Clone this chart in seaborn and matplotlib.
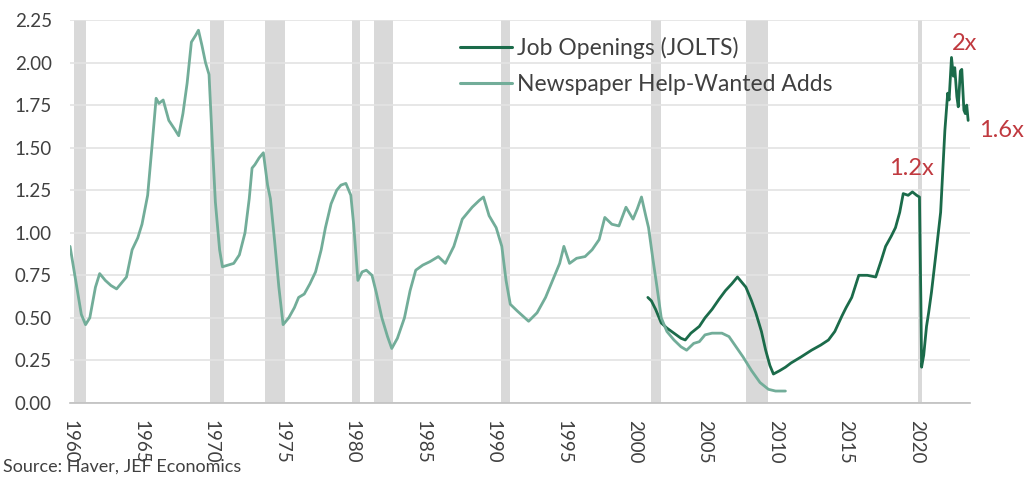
import matplotlib
matplotlib.use("Agg")
import matplotlib.pyplot as plt
import seaborn as sns
import pandas as pd

# ---------------- data ----------------
news_years = [1960.0, 1960.4, 1960.8, 1961.1, 1961.4, 1961.8, 1962.1, 1962.5, 1962.9, 1963.3,
              1963.6, 1964.0, 1964.4, 1964.8, 1965.1, 1965.5, 1965.8, 1966.1, 1966.3, 1966.6,
              1967.0, 1967.4, 1967.7, 1968.0, 1968.3, 1968.6, 1968.9, 1969.1, 1969.35, 1969.6,
              1969.85, 1970.1, 1970.3, 1970.6, 1970.8, 1971.2, 1971.6, 1972.0, 1972.4, 1972.7,
              1972.9, 1973.1, 1973.4, 1973.7, 1974.0, 1974.2, 1974.5, 1974.8, 1975.1, 1975.5,
              1975.9, 1976.2, 1976.6, 1977.0, 1977.4, 1977.8, 1978.1, 1978.5, 1978.9, 1979.2,
              1979.55, 1979.9, 1980.1, 1980.4, 1980.7, 1981.0, 1981.4, 1981.7, 1982.1, 1982.5,
              1982.8, 1983.2, 1983.7, 1984.1, 1984.5, 1985.0, 1985.5, 1986.1, 1986.6, 1987.2,
              1987.8, 1988.5, 1989.0, 1989.3, 1989.7, 1990.2, 1990.6, 1990.9, 1991.2, 1991.7,
              1992.5, 1993.1, 1993.7, 1994.3, 1994.7, 1995.0, 1995.4, 1995.9, 1996.5, 1997.0,
              1997.5, 1997.9, 1998.4, 1998.9, 1999.4, 1999.9, 2000.2, 2000.5, 2000.8, 2001.0,
              2001.3, 2001.6, 2001.9, 2002.3, 2002.8, 2003.3, 2003.7, 2004.2, 2004.6, 2005.0,
              2005.5, 2006.2, 2006.7, 2007.2, 2007.7, 2008.3, 2008.9, 2009.5, 2010.0, 2010.7]
news_values = [0.92, 0.72, 0.52, 0.46, 0.50, 0.68, 0.76, 0.72, 0.69, 0.67,
               0.70, 0.74, 0.90, 0.97, 1.05, 1.22, 1.50, 1.79, 1.76, 1.78,
               1.66, 1.61, 1.57, 1.70, 1.88, 2.12, 2.16, 2.19, 2.10, 2.00,
               1.93, 1.50, 1.18, 0.90, 0.80, 0.81, 0.82, 0.87, 1.00, 1.20,
               1.38, 1.40, 1.44, 1.47, 1.28, 1.20, 0.95, 0.68, 0.46, 0.50,
               0.56, 0.62, 0.64, 0.70, 0.77, 0.90, 1.03, 1.17, 1.25, 1.28,
               1.29, 1.22, 1.05, 0.72, 0.77, 0.78, 0.75, 0.65, 0.50, 0.39,
               0.32, 0.38, 0.50, 0.66, 0.78, 0.81, 0.83, 0.86, 0.82, 0.92,
               1.08, 1.15, 1.19, 1.21, 1.10, 1.03, 0.92, 0.72, 0.58, 0.54,
               0.48, 0.53, 0.62, 0.74, 0.82, 0.92, 0.82, 0.85, 0.86, 0.90,
               0.96, 1.09, 1.05, 1.04, 1.15, 1.08, 1.14, 1.21, 1.10, 1.03,
               0.85, 0.68, 0.50, 0.42, 0.37, 0.33, 0.31, 0.35, 0.36, 0.40,
               0.41, 0.41, 0.39, 0.33, 0.27, 0.19, 0.12, 0.08, 0.07, 0.07]

jolts_years = [2000.95, 2001.2, 2001.5, 2001.9, 2002.3, 2002.8, 2003.3, 2003.6, 2004.0, 2004.6,
               2005.0, 2005.5, 2006.0, 2006.45, 2006.9, 2007.3, 2007.6, 2007.9, 2008.3, 2008.6,
               2009.0, 2009.3, 2009.6, 2009.85, 2010.3, 2010.7, 2011.1, 2011.8, 2012.55, 2013.2,
               2013.75, 2014.2, 2014.7, 2015.0, 2015.4, 2015.9, 2016.5, 2017.1, 2017.5, 2017.8,
               2018.2, 2018.5, 2018.8, 2019.05, 2019.4, 2019.7, 2020.0, 2020.2, 2020.3, 2020.35,
               2020.5, 2020.7, 2020.85, 2021.05, 2021.4, 2021.7, 2022.0, 2022.2, 2022.3, 2022.47,
               2022.6, 2022.7, 2022.85, 2022.95, 2023.1, 2023.2, 2023.35, 2023.45, 2023.55, 2023.65]
jolts_values = [0.62, 0.60, 0.55, 0.47, 0.44, 0.41, 0.38, 0.37, 0.41, 0.45,
                0.50, 0.55, 0.61, 0.66, 0.70, 0.74, 0.71, 0.68, 0.60, 0.53,
                0.42, 0.31, 0.22, 0.17, 0.19, 0.21, 0.235, 0.27, 0.31, 0.34,
                0.37, 0.42, 0.51, 0.56, 0.62, 0.75, 0.75, 0.74, 0.84, 0.92,
                0.98, 1.03, 1.12, 1.23, 1.22, 1.24, 1.22, 1.21, 0.60, 0.21,
                0.28, 0.45, 0.53, 0.65, 0.90, 1.12, 1.60, 1.82, 1.78, 2.03,
                1.92, 1.97, 1.80, 1.74, 1.95, 1.96, 1.72, 1.70, 1.75, 1.66]

recession_starts = [1960.3, 1969.95, 1973.85, 1980.0, 1981.55, 1990.55, 2001.2, 2007.92, 2020.1]
recession_ends = [1961.1, 1970.9, 1975.2, 1980.55, 1982.9, 1991.2, 2001.9, 2009.5, 2020.35]

series_names = ["Job Openings (JOLTS)", "Newspaper Help-Wanted Adds"]
x_ticks = list(range(1960, 2021, 5))
y_ticks = [0.0, 0.25, 0.5, 0.75, 1.0, 1.25, 1.5, 1.75, 2.0, 2.25]

ann_labels = ["2x", "1.6x", "1.2x"]
ann_x = [2023.4, 2026.0, 2019.6]
ann_y = [2.11, 1.60, 1.38]

# ---------------- build ----------------
df = pd.concat([
    pd.DataFrame({"year": jolts_years, "value": jolts_values, "series": series_names[0]}),
    pd.DataFrame({"year": news_years, "value": news_values, "series": series_names[1]}),
], ignore_index=True)

sns.set_style("white")
plt.rcParams["font.family"] = ["Lato", "DejaVu Sans"]

fig = plt.figure(figsize=(10.30, 4.82), dpi=100)
ax = fig.add_axes([0.068, 0.164, 0.874, 0.7945])

for s, e in zip(recession_starts, recession_ends):
    ax.axvspan(s, e, color="#d9d9d9", lw=0, zorder=0)

palette = {series_names[0]: "#1b6b4a", series_names[1]: "#72ad99"}
sns.lineplot(data=df, x="year", y="value", hue="series", palette=palette,
             linewidth=2.0, ax=ax, sort=False, zorder=3)

ax.set_xlim(1960, 2023.8)
ax.set_ylim(0, 2.25)
ax.set_yticks(y_ticks)
ax.set_yticklabels([f"{v:.2f}" for v in y_ticks])
ax.set_xticks(x_ticks)
ax.set_xticklabels([str(v) for v in x_ticks], rotation=-90)
ax.grid(axis="y", color="#e3e3e3", linewidth=1.2)
ax.grid(axis="x", visible=False)
ax.set_axisbelow(True)
for sp in ["top", "right", "left"]:
    ax.spines[sp].set_visible(False)
ax.spines["bottom"].set_color("#bfbfbf")
ax.spines["bottom"].set_linewidth(1.2)
ax.tick_params(axis="x", length=3, color="#bfbfbf", labelsize=13.5, labelcolor="#404040", pad=9)
ax.tick_params(axis="y", length=0, labelsize=13.5, labelcolor="#404040", pad=13)
ax.set_xlabel("")
ax.set_ylabel("")

handles, labels = ax.get_legend_handles_labels()
leg = ax.legend(handles, labels, loc="upper left", bbox_to_anchor=(0.433, 0.957),
                frameon=False, fontsize=16.5, handlelength=2.26, handletextpad=0.22,
                labelspacing=0.66, borderaxespad=0.0, borderpad=0.0)
for t in leg.get_texts():
    t.set_color("#404040")
for l in leg.get_lines():
    l.set_linewidth(2.2)

for lab, x, y in zip(ann_labels, ann_x, ann_y):
    ax.text(x, y, lab, color="#c0393f", fontsize=17, ha="center", va="center",
            clip_on=False, zorder=5)

fig.text(0.003, 0.031, "Source: Haver, JEF Economics", fontsize=13, color="#404040",
         ha="left", va="center")

fig.savefig("out.png", dpi=100)
